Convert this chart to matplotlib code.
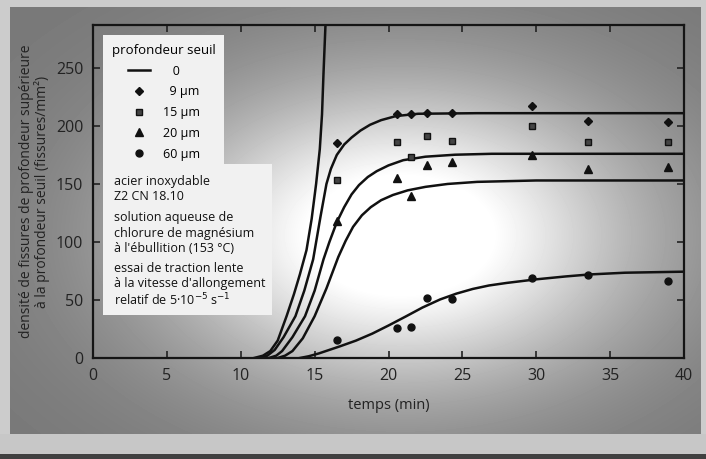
import numpy as np
import matplotlib
matplotlib.use('Agg')
import matplotlib.pyplot as plt
from matplotlib.patches import Rectangle
from matplotlib.lines import Line2D

plt.rcParams['font.family'] = ['Open Sans', 'DejaVu Sans']

# courbes lissees (temps en min, densite en fissures/mm2)
t_c0 = [10.9, 11.5, 12.0, 12.5, 13.1, 13.6, 14.0, 14.45, 14.8, 15.1, 15.35, 15.5, 15.6, 15.75]
n_c0 = [0, 2, 6, 15, 36, 55, 72, 93, 120, 150, 180, 210, 245, 292]

t_c9 = [11.3, 11.8, 12.3, 12.9, 13.7, 14.3, 14.9, 15.4, 15.8, 16.1, 16.5, 17.0, 17.5,
        18.1, 18.75, 19.5, 20.5, 22.0, 26.0, 40.0]
n_c9 = [0, 2, 7, 18, 36, 58, 85, 122, 150, 163, 175, 184, 190,
        196, 201, 205, 208.5, 210.5, 211, 211]

t_c15 = [11.9, 12.4, 12.8, 13.5, 14.35, 15.0, 15.6, 16.0, 16.5, 17.0, 17.5, 18.0, 18.6,
         19.2, 20.0, 21.0, 22.5, 24.5, 27.0, 40.0]
n_c15 = [0, 2, 6, 18, 36, 58, 85, 100, 117, 130, 141, 149, 156,
         161, 166, 170.5, 173.5, 175.2, 176, 176]

t_c20 = [12.5, 13.0, 13.5, 14.2, 15.0, 15.8, 16.6, 17.1, 17.6, 18.2, 18.8, 19.5, 20.3,
         21.3, 22.5, 24.0, 26.0, 30.0, 40.0]
n_c20 = [0, 2, 6, 17, 36, 60, 87, 101, 113, 123, 130, 136, 140.5,
         144.5, 147.5, 150, 151.8, 153, 153]

t_c60 = [14.0, 14.6, 15.3, 16.0, 16.7, 17.8, 18.9, 20.0, 21.2, 22.3, 23.5, 24.6, 25.7,
         26.8, 28.0, 30.0, 32.0, 33.6, 36.0, 40.0]
n_c60 = [0, 1.5, 4, 7, 10, 15, 21, 28, 36, 43.5, 50.5, 55.5, 59.5,
         62.5, 64.7, 67.8, 70.3, 72, 73.5, 74.4]

# points de mesure
temps_mesure = [16.5, 20.6, 21.5, 22.6, 24.3, 29.7, 33.5, 38.9]
d_9 = [185, 210, 210, 211, 211, 217, 204, 203]
d_15 = [153, 186, 173, 191, 187, 200, 186, 186]
d_20 = [118, 155, 140, 166, 169, 175, 163, 165]
d_60 = [15.5, 25.6, 27, 52, 50.5, 68.7, 71.5, 66.6]

W, H = 706, 459
fig = plt.figure(figsize=(W / 100, H / 100), dpi=100)

# fond (aspect photocopie : cadre gris et zone claire au centre)
bg = fig.add_axes([0, 0, 1, 1], zorder=-10)
yy, xx = np.mgrid[0:H, 0:W]
img = np.full((H, W), 0.80)
panel = (xx >= 10) & (xx <= 700) & (yy >= 7) & (yy <= 433)
blob = np.exp(-((xx - 400) / 235.0) ** 2 - ((yy - 235) / 150.0) ** 2)
img[panel] = (0.47 + 0.62 * blob)[panel]
img[yy > 433] = 0.78
img[yy > 453] = 0.25
bg.imshow(np.clip(img, 0, 1), cmap='gray', vmin=0, vmax=1, aspect='auto',
          extent=[0, W, H, 0])
bg.axis('off')

ax = fig.add_axes([93 / W, 1 - 358 / H, (684 - 93) / W, (358 - 25) / H])
ax.set_facecolor('none')

lc = '#111111'
ax.plot(t_c0, n_c0, color=lc, lw=1.8)
ax.plot(t_c9, n_c9, color=lc, lw=1.8)
ax.plot(t_c15, n_c15, color=lc, lw=1.8)
ax.plot(t_c20, n_c20, color=lc, lw=1.8)
ax.plot(t_c60, n_c60, color=lc, lw=1.8)

ax.plot(temps_mesure, d_9, 'D', color=lc, ms=4.5, ls='none')
ax.plot(temps_mesure, d_15, 's', color=lc, mfc='#444444', ms=5, ls='none')
ax.plot(temps_mesure, d_20, '^', color=lc, ms=5.5, ls='none')
ax.plot(temps_mesure, d_60, 'o', color=lc, ms=5, ls='none')

ax.set_xlim(0, 40)
ax.set_ylim(0, 287)
ax.set_xticks(range(0, 41, 5))
ax.set_yticks(range(0, 251, 50))
ax.tick_params(direction='in', top=True, right=True, length=5, width=1.2,
               labelsize=11.5, colors='#222222', pad=7)
for s in ax.spines.values():
    s.set_linewidth(1.6)
    s.set_color('#151515')

ax.set_xlabel('temps (min)', fontsize=10.5, color='#222222', labelpad=10)
ax.set_ylabel('densité de fissures de profondeur supérieure\n'
              'à la profondeur seuil (fissures/mm²)',
              fontsize=10, color='#222222', labelpad=4, linespacing=1.0)

# legende
handles = [Line2D([], [], color=lc, lw=1.8),
           Line2D([], [], marker='D', color=lc, ls='none', ms=4.5),
           Line2D([], [], marker='s', color=lc, mfc='#444444', ls='none', ms=5),
           Line2D([], [], marker='^', color=lc, ls='none', ms=5.5),
           Line2D([], [], marker='o', color=lc, ls='none', ms=5)]
labels = ['   0', '  9 µm', '15 µm', '20 µm', '60 µm']
leg = ax.legend(handles, labels, title='profondeur seuil', loc='upper left',
                bbox_to_anchor=((103 - 93) / (684 - 93), 1 - (35 - 25) / (358 - 25)),
                borderaxespad=0, fontsize=9, title_fontsize=9.5,
                frameon=True, fancybox=False, handlelength=1.8,
                labelspacing=0.62, handletextpad=1.0, borderpad=0.7)
leg.get_frame().set_facecolor('#f1f1f1')
leg.get_frame().set_edgecolor('none')
leg.get_frame().set_alpha(1)

# encadre de conditions d'essai
def px(x, y):
    return x / W, 1 - y / H

x0, y0 = px(103, 315)
x1, y1 = px(272, 164)
fig.add_artist(Rectangle((x0, y0), x1 - x0, y1 - y0, transform=fig.transFigure,
                         facecolor='#f1f1f1', edgecolor='none', zorder=5))
lignes = [("acier inoxydable", 181), ("Z2 CN 18.10", 196),
          ("solution aqueuse de", 217), ("chlorure de magnésium", 233),
          ("à l'ébullition (153 °C)", 249), ("essai de traction lente", 268),
          ("à la vitesse d'allongement", 284), ("relatif de 5·10$^{-5}$ s$^{-1}$", 300)]
for txt, yp in lignes:
    fig.text(*px(114, yp), txt, fontsize=9, color='#111111', va='center',
             ha='left', zorder=6)

fig.savefig('out.png', dpi=100)
